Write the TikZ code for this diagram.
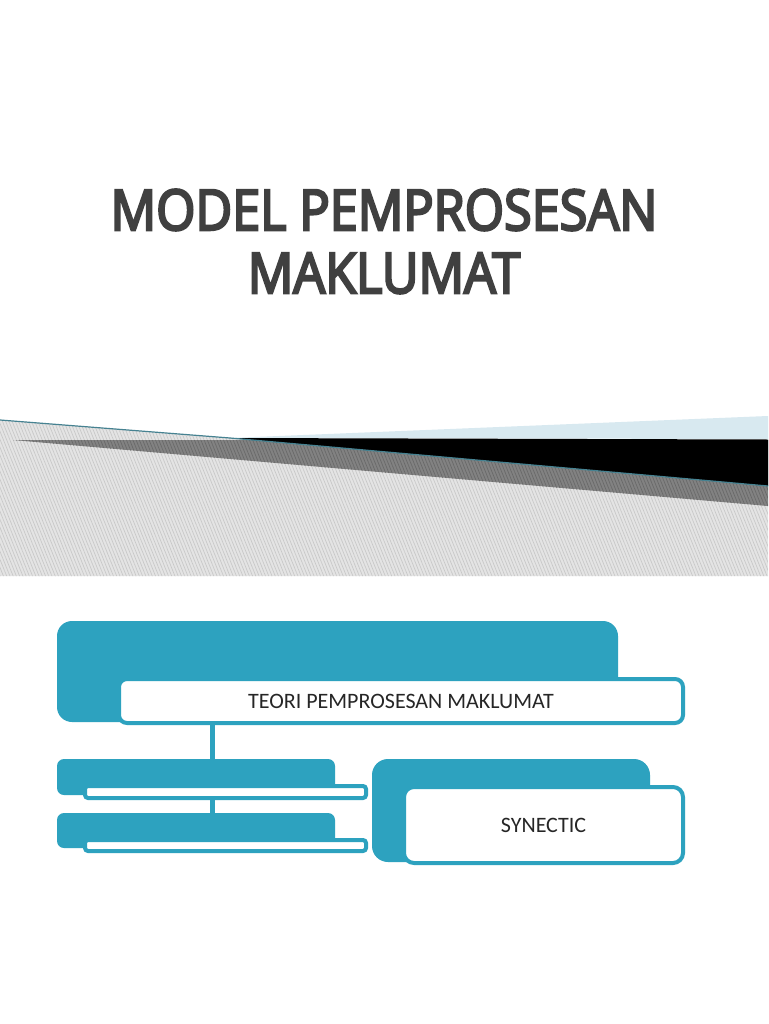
\documentclass[tikz,border=0pt]{standalone}
\usepackage{fontspec}
\usetikzlibrary{patterns.meta}
\setmainfont{Carlito}
\newfontfamily\titlefont[FakeBold=4.5]{Open Sans}
\definecolor{tealbox}{RGB}{45,162,191}
\definecolor{titlegray}{RGB}{64,64,64}
\definecolor{bandgray}{RGB}{228,228,228}
\definecolor{hatchgray}{RGB}{200,200,200}
\definecolor{wedgegray}{RGB}{130,130,130}
\definecolor{wedgehatch}{RGB}{105,105,105}
\definecolor{paleblue}{RGB}{216,233,240}
\definecolor{edgeteal}{RGB}{70,130,145}
\begin{document}
\begin{tikzpicture}[x=1pt,y=-1pt,
  backbox/.style={fill=tealbox, rounded corners=#1, inner sep=0pt, minimum width=278pt},
  backbox/.default=7pt,
  frontbox/.style={fill=white, draw=tealbox, line width=4pt, inner sep=0pt, rounded corners=#1},
  frontbox/.default=4pt,
  conn/.style={draw=tealbox, line width=5pt},
  titletext/.style={font=\titlefont\fontsize{56}{66}\selectfont, text=titlegray, anchor=base, inner sep=0pt},
  boxtext/.style={font=\fontsize{22}{26}\selectfont, text=black!85},
  hatch/.style={pattern={Lines[angle=-68, distance=3pt, line width=0.7pt]}, pattern color=#1}]
\useasboundingbox (0,0) rectangle (768,1024);
\fill[white] (0,0) rectangle (768,1024);
% title
\node[titletext] (t1) at (384,230) {\scalebox{0.9}[1]{MODEL PEMPROSESAN}};
\node[titletext] (t2) at (384,293) {\scalebox{0.9}[1]{MAKLUMAT}};
% decorative band
\fill[bandgray] (0,420) -- (230,438) -- (768,486) -- (768,576) -- (0,576) -- cycle;
\fill[hatch=hatchgray] (0,420) -- (230,438) -- (768,486) -- (768,576) -- (0,576) -- cycle;
\fill[wedgegray] (13,440) -- (768,440) -- (768,506) -- cycle;
\fill[hatch=wedgehatch] (13,440) -- (768,440) -- (768,506) -- cycle;
\fill[paleblue] (230,438) -- (768,416) -- (768,439) -- cycle;
\fill[black] (230,438) -- (768,439.5) -- (768,486) -- cycle;
\draw[edgeteal, line width=1.2pt] (0,420) -- (230,438) -- (768,486);
% diagram
\node[backbox=15pt, minimum width=561pt, minimum height=101pt] (topback) at (337.5,671.5) {};
\node[frontbox=8pt, minimum width=564pt, minimum height=44pt, boxtext] (topfront) at (401,701) {TEORI PEMPROSESAN MAKLUMAT};
\coordinate (cx) at (212,740);
\node[backbox, minimum height=36pt] (l1back) at (196,777) {};
\node[frontbox=3pt, minimum width=281pt, minimum height=12pt] (l1front) at (225.5,792) {};
\node[backbox, minimum height=35pt] (l2back) at (196,830.5) {};
\node[frontbox=3pt, minimum width=281pt, minimum height=11pt] (l2front) at (225.5,845.5) {};
\draw[conn] (topfront.south -| cx) -- (l1back.north -| cx);
\draw[conn] (l1front.south -| cx) -- (l2back.north -| cx);
\node[backbox=16pt, minimum height=103pt] (synback) at (511,810.5) {};
\node[frontbox=10pt, minimum width=279pt, minimum height=76pt, boxtext] (synfront) at (543.5,825) {SYNECTIC};
\end{tikzpicture}
\end{document}
